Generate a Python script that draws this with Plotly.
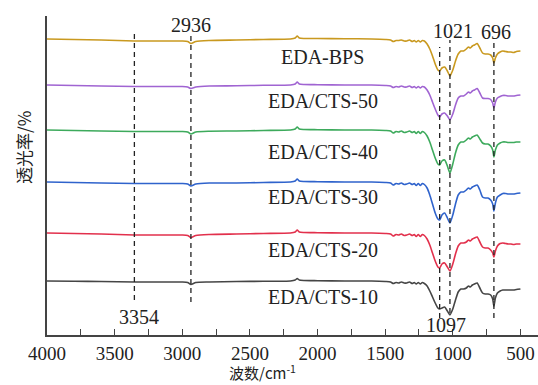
import plotly.graph_objects as go

# Shared wavenumber grid (cm^-1)
wavenumber = [4000, 3800, 3600, 3354, 3150, 3000, 2960, 2936, 2900, 2800,
              2600, 2400, 2200, 2165, 2150, 2135, 2100, 2000, 1800, 1600,
              1500, 1460, 1440, 1420, 1400, 1380, 1360, 1340, 1320, 1300,
              1285, 1270, 1255, 1240, 1225, 1210, 1190, 1170, 1150, 1130,
              1110, 1097, 1080, 1060, 1040, 1021, 1000, 980, 960, 940,
              920, 900, 885, 870, 855, 840, 820, 800, 780, 760,
              740, 720, 705, 696, 685, 670, 650, 630, 610, 590,
              570, 550, 530, 500]

# Relative transmittance of each sample
eda_bps = [0, -0.5, -1, -2, -2, -2, -2.5, -4.5, -2.5, -1.5,
           -1, -0.5, 0, 1, 3, 1, 0.5, 0.5, 0.3, 0,
           -0.5, -1, -2.5, -1.5, -1.5, -1, -2, -2, -1, -2.5,
           -1.5, -3, -1.5, -3, -1.5, -2, -5, -10, -17, -25,
           -31, -32, -29, -28, -32, -37, -31, -22, -15, -12,
           -12, -10, -8, -9, -7, -6, -4.5, -9, -14, -15,
           -15, -16, -19, -24, -19, -15, -13, -12, -12.5, -13,
           -13, -13.5, -12.5, -12]
cts_50 = [0, -0.5, -1, -1.5, -1.5, -1.5, -2, -3.5, -2, -1,
          -0.8, -0.3, 0, 1, 3, 1, 0.5, 0.3, 0, 0,
          -0.5, -1, -2.5, -1.5, -2, -1, -2, -2, -1, -2.5,
          -1.5, -3, -1.5, -3, -1.5, -2, -5, -10, -17, -24,
          -30, -32, -29, -28, -31, -35, -29, -20, -13, -11,
          -11, -9, -7, -8, -6, -5, -3.5, -8, -13, -13.5,
          -13.5, -14.5, -18, -23, -17, -13, -11.5, -10.5, -10.5, -11,
          -11, -11, -10.5, -10]
cts_40 = [0, -0.5, -1, -1.5, -1.5, -1.5, -2, -4, -2, -1.2,
          -1, -0.5, 0, 1, 3, 1, 0.5, 0.3, 0, 0,
          -0.5, -1, -3, -1.5, -2, -1, -2.5, -2, -1, -2.5,
          -1.5, -3.5, -1.5, -3.5, -1.5, -2.5, -6, -12, -20, -28,
          -34, -35, -31, -30, -36, -43, -34, -23, -15, -12,
          -12, -10, -8, -9, -7, -6, -5, -9, -13, -14,
          -14, -16, -20, -27, -20, -15, -13, -12, -12, -12.5,
          -12.5, -12.5, -12, -12]
cts_30 = [0, -0.5, -1, -1.5, -1.5, -1.5, -2, -4, -2, -1,
          -1, -0.5, 0, 1, 3, 1, 0.5, 0.3, 0, 0,
          -0.5, -1, -3, -1.5, -2, -1, -2.5, -2, -1, -2.5,
          -1.5, -3.5, -1.5, -3.5, -1.5, -2.5, -6, -13, -22, -31,
          -37, -38, -33, -31, -36, -41, -33, -22, -13, -10,
          -10, -8, -6, -7, -5, -4, -3, -8, -15, -16,
          -16, -18, -22, -29, -21, -15, -13, -11.5, -11.5, -12,
          -12, -12, -11.5, -11]
cts_20 = [0, -0.5, -1, -2, -2, -2, -2.5, -4.5, -2.5, -1.5,
          -1, -0.5, 0, 1, 3, 1, 0.5, 0.3, 0, 0,
          -0.5, -1, -3, -1.5, -2, -1, -2.5, -2, -1, -2.5,
          -1.5, -3.5, -1.5, -3.5, -1.5, -2.5, -6, -12, -20, -28,
          -34, -35, -31, -30, -34, -38, -31, -21, -13, -10,
          -10, -9, -7, -8, -6, -5, -4, -9, -14, -15,
          -15, -17, -20, -24, -18, -13, -10.5, -10, -10.5, -11,
          -11, -11.5, -11, -11]
cts_10 = [0, -0.3, -0.5, -1, -1, -1, -1.5, -3.5, -1.5, -1,
          -0.5, -0.3, 0, 1, 2.5, 1, 0.5, 0.3, 0, 0,
          -0.5, -1, -2.5, -1.5, -2, -1, -2, -2, -1, -2.5,
          -1.5, -3, -1.5, -3, -1.5, -2.5, -5, -10, -16, -22,
          -27, -28, -27, -26, -30, -34, -28, -19, -11, -8,
          -8, -7, -5, -6, -4, -3, -2, -7, -12, -13,
          -13, -14, -18, -25, -17, -12, -10, -9, -9, -9,
          -9, -9, -8.5, -8]

series_names = ["EDA-BPS", "EDA/CTS-50", "EDA/CTS-40", "EDA/CTS-30", "EDA/CTS-20", "EDA/CTS-10"]
series_values = [eda_bps, cts_50, cts_40, cts_30, cts_20, cts_10]
series_offsets = [296, 250, 205, 153, 102, 54]
series_colors = ["#C9991F", "#A064D2", "#3DAA5C", "#2F63CC", "#E2304C", "#454545"]
label_offsets = [278, 234, 183, 138, 85, 38]

peak_positions = [3354, 2936, 1097, 1021, 696]
peak_labels = ["3354", "2936", "1097", "1021", "696"]

fig = go.Figure()
for name, vals, off, col in zip(series_names, series_values, series_offsets, series_colors):
    fig.add_trace(go.Scatter(x=wavenumber, y=[v + off for v in vals], mode="lines",
                             name=name, line=dict(color=col, width=1.6, shape="spline", smoothing=0.6),
                             showlegend=False))

# dashed marker lines (y extents in axis units)
dash_extent = {3354: (35, 304), 2936: (33, 302), 1097: (17, 288), 1021: (22, 295), 696: (17, 297)}
for p in peak_positions:
    y0, y1 = dash_extent[p]
    fig.add_shape(type="line", x0=p, x1=p, y0=y0, y1=y1, xref="x", yref="y",
                  line=dict(color="#222", width=1.3, dash="5px,4px"))

serif = "Liberation Serif, Times New Roman, serif"
label_pos = {"3354": (3354, 18, 5), "2936": (2936, 310, 0), "1097": (1097, 10, 6),
             "1021": (1021, 304, 3), "696": (696, 303, 2)}
for txt in peak_labels:
    x, y, xs = label_pos[txt]
    fig.add_annotation(x=x, y=y, text=txt, showarrow=False, xshift=xs,
                       xanchor="center", yanchor="middle",
                       font=dict(family=serif, size=20, color="#222"))

for name, ly in zip(series_names, label_offsets):
    fig.add_annotation(x=1960, y=ly, text=name, showarrow=False,
                       xanchor="center", yanchor="middle",
                       font=dict(family=serif, size=20, color="#222"))

cjk = "Noto Sans CJK SC, sans-serif"
fig.add_annotation(xref="paper", yref="paper", x=(262 - 47) / 491, y=-50 / 319,
                   xanchor="center", yanchor="bottom",
                   text="波数/cm<sup>-1</sup>", showarrow=False,
                   font=dict(family=cjk, size=15, color="#222"))
fig.add_annotation(xref="paper", yref="paper", x=(23 - 47) / 491, y=(335 - 148) / 319,
                   xanchor="center", yanchor="middle",
                   text="透光率/%", textangle=-90, showarrow=False,
                   font=dict(family=cjk, size=17, color="#222"))

fig.update_layout(
    width=538, height=385, autosize=False,
    margin=dict(l=47, r=0, t=16, b=50),
    paper_bgcolor="white", plot_bgcolor="white",
    xaxis=dict(range=[4000, 370], dtick=500, tick0=0, ticks="inside", ticklen=6,
               tickcolor="#444", tickwidth=1.3,
               minor=dict(dtick=250, ticks="inside", ticklen=6, tickcolor="#444", tickwidth=1.3),
               showline=True, linecolor="#444", linewidth=1.6, showgrid=False, zeroline=False,
               tickfont=dict(family=serif, size=19, color="#222")),
    yaxis=dict(range=[0, 319], showline=True, linecolor="#444", linewidth=1.6,
               showticklabels=False, ticks="", showgrid=False, zeroline=False),
)

fig.write_html("out.html")
